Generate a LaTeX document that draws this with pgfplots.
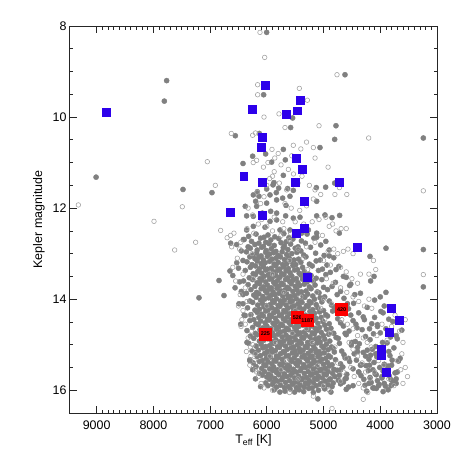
\documentclass[border=0pt]{standalone}
\usepackage{fontspec}
\setmainfont{Liberation Sans}
\usepackage{pgfplots}
\pgfplotsset{compat=1.18}
\definecolor{dotgray}{RGB}{128,128,128}
\definecolor{ringgray}{RGB}{165,165,165}
\definecolor{sqblue}{RGB}{45,0,235}
\definecolor{sqred}{RGB}{255,0,0}
\begin{document}
\begin{tikzpicture}
\begin{axis}[
  name=hr,
  width=367bp, height=387bp, scale only axis,
  x dir=reverse, y dir=reverse,
  xmin=3000, xmax=9470, ymin=8, ymax=16.5,
  xtick={3000,4000,...,9000}, ytick={8,10,12,14,16},
  minor x tick num=9, minor y tick num=3,
  major tick length=7bp, minor tick length=3.5bp,
  tick style={black!85, line width=0.7bp},
  axis line style={black!85, line width=1bp},
  /pgf/number format/assume math mode=true,
  /pgf/number format/1000 sep={},
  tick label style={font=\fontsize{12.5}{14}\selectfont},
  xticklabel style={yshift=-4bp},
  label style={font=\fontsize{12.5}{15}\selectfont},
  xlabel={T\textsubscript{eff}\ [K]},
  ylabel={Kepler magnitude},
  xlabel style={at={(axis description cs:0.5,-0.07)}, anchor=center},
  ylabel style={at={(axis description cs:-0.085,0.5)}, anchor=center},
]
% filled dots: core rows
\addplot[only marks, mark=*, mark size=2.6, color=dotgray] coordinates {
(6320,12.62) (6190,12.57) (6050,12.64) (5980,12.59) (5860,12.63) (5700,12.56) (5610,12.65) (5480,12.60) (5290,12.57) (5120,12.64)
(6400,12.69) (6270,12.73) (6110,12.66) (6020,12.75) (5930,12.70) (5790,12.67) (5660,12.74) (5540,12.68) (5390,12.72) (5170,12.66) (4960,12.73)
(6330,12.85) (6210,12.80) (6140,12.77) (6060,12.84) (5960,12.78) (5870,12.82) (5750,12.76) (5690,12.83) (5580,12.79) (5450,12.85) (5320,12.77) (5050,12.81)
(6450,12.94) (6290,12.88) (6170,12.92) (6090,12.86) (6010,12.93) (5920,12.89) (5840,12.95) (5710,12.87) (5630,12.91) (5500,12.88) (5400,12.94) (5230,12.86) (4900,12.92)
(6360,12.96) (6250,13.03) (6180,12.99) (6100,13.05) (6020,12.97) (5950,13.01) (5880,12.98) (5800,13.04) (5730,12.96) (5650,13.02) (5560,13.00) (5470,12.97) (5350,13.03) (5140,12.99) (4990,13.04)
(6420,13.15) (6300,13.07) (6210,13.11) (6140,13.08) (6060,13.14) (5990,13.06) (5910,13.12) (5840,13.10) (5760,13.07) (5690,13.13) (5610,13.09) (5520,13.14) (5440,13.12) (5310,13.07) (5060,13.14) (4820,13.09)
(6350,13.18) (6260,13.24) (6170,13.16) (6100,13.22) (6030,13.20) (5950,13.17) (5870,13.23) (5800,13.19) (5720,13.24) (5650,13.22) (5570,13.17) (5490,13.24) (5400,13.19) (5250,13.23) (5130,13.16) (4940,13.25)
(6500,13.32) (6290,13.30) (6200,13.27) (6130,13.33) (6060,13.29) (5990,13.34) (5920,13.32) (5840,13.27) (5770,13.34) (5700,13.29) (5620,13.33) (5540,13.26) (5460,13.35) (5370,13.30) (5200,13.27) (5020,13.34) (4730,13.28)
(6380,13.37) (6240,13.44) (6160,13.39) (6090,13.43) (6020,13.36) (5950,13.45) (5880,13.40) (5810,13.37) (5740,13.44) (5660,13.38) (5590,13.42) (5510,13.36) (5430,13.43) (5340,13.39) (5260,13.45) (5090,13.37) (4880,13.41)
(6310,13.53) (6200,13.46) (6120,13.55) (6050,13.50) (5980,13.47) (5910,13.54) (5840,13.48) (5770,13.52) (5700,13.46) (5630,13.53) (5560,13.49) (5480,13.55) (5400,13.47) (5310,13.51) (5220,13.48) (5130,13.54) (4960,13.46) (4600,13.52)
(6410,13.60) (6250,13.57) (6170,13.64) (6090,13.58) (6020,13.62) (5950,13.56) (5880,13.63) (5810,13.59) (5740,13.65) (5670,13.57) (5600,13.61) (5530,13.58) (5450,13.64) (5370,13.56) (5290,13.62) (5180,13.60) (5030,13.57) (4790,13.63)
(6330,13.68) (6210,13.72) (6130,13.66) (6060,13.73) (5990,13.69) (5920,13.75) (5850,13.67) (5780,13.71) (5710,13.68) (5640,13.74) (5570,13.66) (5500,13.72) (5420,13.70) (5340,13.67) (5250,13.73) (5150,13.69) (5000,13.74) (4850,13.72) (4520,13.67)
(6450,13.83) (6280,13.79) (6180,13.85) (6100,13.77) (6030,13.81) (5960,13.78) (5890,13.84) (5820,13.76) (5750,13.82) (5680,13.80) (5610,13.77) (5540,13.83) (5470,13.79) (5390,13.84) (5310,13.82) (5220,13.77) (5110,13.84) (4930,13.79) (4700,13.83)
(6360,13.87) (6230,13.91) (6140,13.88) (6070,13.94) (6000,13.86) (5930,13.92) (5860,13.90) (5790,13.87) (5720,13.93) (5650,13.89) (5580,13.94) (5510,13.92) (5440,13.87) (5360,13.94) (5280,13.89) (5190,13.93) (5080,13.86) (4980,13.95) (4760,13.90) (4350,13.87)
(6300,14.04) (6190,13.96) (6110,14.02) (6040,14.00) (5970,13.97) (5900,14.03) (5830,13.99) (5760,14.04) (5690,14.02) (5620,13.97) (5550,14.04) (5480,13.99) (5410,14.03) (5330,13.96) (5250,14.05) (5160,14.00) (5060,13.97) (4900,14.04) (4640,13.98) (4100,14.02)
(6420,14.10) (6250,14.07) (6160,14.13) (6080,14.09) (6010,14.14) (5940,14.12) (5870,14.07) (5800,14.14) (5730,14.09) (5660,14.13) (5590,14.06) (5520,14.15) (5450,14.10) (5380,14.07) (5300,14.14) (5220,14.08) (5130,14.12) (5030,14.06) (4860,14.13) (4470,14.09) (3930,14.15)
(6340,14.19) (6210,14.24) (6130,14.22) (6050,14.17) (5980,14.24) (5910,14.19) (5840,14.23) (5770,14.16) (5700,14.25) (5630,14.20) (5560,14.17) (5490,14.24) (5420,14.18) (5350,14.22) (5270,14.16) (5190,14.23) (5100,14.19) (5000,14.25) (4810,14.17) (4560,14.21) (4230,14.18)
(6280,14.34) (6170,14.29) (6090,14.33) (6020,14.26) (5950,14.35) (5880,14.30) (5810,14.27) (5740,14.34) (5670,14.28) (5600,14.32) (5530,14.26) (5460,14.33) (5390,14.29) (5320,14.35) (5240,14.27) (5160,14.31) (5070,14.28) (4960,14.34) (4840,14.26) (4620,14.32) (4380,14.30) (3990,14.27)
(6380,14.36) (6230,14.45) (6140,14.40) (6060,14.37) (5990,14.44) (5920,14.38) (5850,14.42) (5780,14.36) (5710,14.43) (5640,14.39) (5570,14.45) (5500,14.37) (5430,14.41) (5360,14.38) (5290,14.44) (5210,14.36) (5130,14.42) (5040,14.40) (4930,14.37) (4750,14.43) (4300,14.39) (3850,14.44)
(6300,14.47) (6190,14.54) (6110,14.48) (6030,14.52) (5960,14.46) (5890,14.53) (5820,14.49) (5750,14.55) (5680,14.47) (5610,14.51) (5540,14.48) (5470,14.54) (5400,14.46) (5330,14.52) (5260,14.50) (5180,14.47) (5100,14.53) (5010,14.49) (4900,14.54) (4700,14.52) (4480,14.47) (4150,14.54) (3780,14.49)
(6250,14.62) (6150,14.56) (6070,14.63) (6000,14.59) (5930,14.65) (5860,14.57) (5790,14.61) (5720,14.58) (5650,14.64) (5580,14.56) (5510,14.62) (5440,14.60) (5370,14.57) (5300,14.63) (5230,14.59) (5150,14.64) (5070,14.62) (4980,14.57) (4870,14.64) (4650,14.59) (4410,14.63) (4050,14.56) (3900,14.65)
(6350,14.69) (6200,14.75) (6120,14.67) (6040,14.71) (5970,14.68) (5900,14.74) (5830,14.66) (5760,14.72) (5690,14.70) (5620,14.67) (5550,14.73) (5480,14.69) (5410,14.74) (5340,14.72) (5270,14.67) (5200,14.74) (5120,14.69) (5040,14.73) (4950,14.66) (4820,14.75) (4550,14.70) (4320,14.67) (4000,14.74) (3620,14.68)
(6290,14.81) (6170,14.78) (6090,14.84) (6010,14.76) (5940,14.82) (5870,14.80) (5800,14.77) (5730,14.83) (5660,14.79) (5590,14.84) (5520,14.82) (5450,14.77) (5380,14.84) (5310,14.79) (5240,14.83) (5160,14.76) (5080,14.85) (5000,14.80) (4910,14.77) (4780,14.84) (4600,14.78) (4260,14.82) (4120,14.76) (3820,14.83)
(6230,14.86) (6130,14.92) (6050,14.90) (5980,14.87) (5910,14.93) (5840,14.89) (5770,14.94) (5700,14.92) (5630,14.87) (5560,14.94) (5490,14.89) (5420,14.93) (5350,14.86) (5280,14.95) (5210,14.90) (5140,14.87) (5060,14.94) (4980,14.88) (4890,14.92) (4740,14.86) (4440,14.93) (4180,14.89) (3960,14.95) (3700,14.87)
(6320,14.97) (6190,15.03) (6100,14.99) (6020,15.04) (5950,15.02) (5880,14.97) (5810,15.04) (5740,14.99) (5670,15.03) (5600,14.96) (5530,15.05) (5460,15.00) (5390,14.97) (5320,15.04) (5250,14.98) (5180,15.02) (5110,14.96) (5030,15.03) (4950,14.99) (4860,15.05) (4720,14.97) (4510,15.01) (4370,14.98) (4080,15.04) (3880,14.96)
(6260,15.14) (6150,15.12) (6070,15.07) (5990,15.14) (5920,15.09) (5850,15.13) (5780,15.06) (5710,15.15) (5640,15.10) (5570,15.07) (5500,15.14) (5430,15.08) (5360,15.12) (5290,15.06) (5220,15.13) (5150,15.09) (5080,15.15) (5000,15.07) (4920,15.11) (4830,15.08) (4680,15.14) (4400,15.06) (4230,15.12) (4140,15.10) (3760,15.07)
(6210,15.17) (6110,15.24) (6040,15.19) (5970,15.23) (5900,15.16) (5830,15.25) (5760,15.20) (5690,15.17) (5620,15.24) (5550,15.18) (5480,15.22) (5410,15.16) (5340,15.23) (5270,15.19) (5200,15.25) (5130,15.17) (5060,15.21) (4990,15.18) (4910,15.24) (4810,15.16) (4640,15.22) (4460,15.20) (4300,15.17) (4170,15.23) (4040,15.19) (3830,15.24)
(6300,15.33) (6170,15.26) (6080,15.35) (6010,15.30) (5940,15.27) (5870,15.34) (5800,15.28) (5730,15.32) (5660,15.26) (5590,15.33) (5520,15.29) (5450,15.35) (5380,15.27) (5310,15.31) (5240,15.28) (5170,15.34) (5100,15.26) (5030,15.32) (4960,15.30) (4880,15.27) (4790,15.33) (4620,15.29) (4420,15.34) (4200,15.32) (4060,15.27) (3790,15.34)
(6240,15.40) (6130,15.37) (6050,15.44) (5980,15.38) (5910,15.42) (5840,15.36) (5770,15.43) (5700,15.39) (5630,15.45) (5560,15.37) (5490,15.41) (5420,15.38) (5350,15.44) (5280,15.36) (5210,15.42) (5140,15.40) (5070,15.37) (5000,15.43) (4930,15.39) (4850,15.44) (4700,15.42) (4540,15.37) (4330,15.44) (4110,15.39) (3930,15.43) (3680,15.36)
(6190,15.48) (6090,15.52) (6020,15.46) (5950,15.53) (5880,15.49) (5810,15.55) (5740,15.47) (5670,15.51) (5600,15.48) (5530,15.54) (5460,15.46) (5390,15.52) (5320,15.50) (5250,15.47) (5180,15.53) (5110,15.49) (5040,15.54) (4970,15.52) (4900,15.47) (4820,15.54) (4660,15.49) (4480,15.53) (4250,15.46) (4130,15.55) (4010,15.50) (3860,15.47)
(6130,15.63) (6040,15.59) (5970,15.65) (5900,15.57) (5830,15.61) (5760,15.58) (5690,15.64) (5620,15.56) (5550,15.62) (5480,15.60) (5410,15.57) (5340,15.63) (5270,15.59) (5200,15.64) (5130,15.62) (5060,15.57) (4990,15.64) (4920,15.59) (4840,15.63) (4760,15.56) (4590,15.65) (4380,15.60) (4210,15.57) (4090,15.64) (3950,15.58) (3740,15.62)
(6080,15.67) (6000,15.71) (5930,15.68) (5860,15.74) (5790,15.66) (5720,15.72) (5650,15.70) (5580,15.67) (5510,15.73) (5440,15.69) (5370,15.74) (5300,15.72) (5230,15.67) (5160,15.74) (5090,15.69) (5020,15.73) (4950,15.66) (4880,15.75) (4800,15.70) (4720,15.67) (4600,15.74) (4340,15.68) (4180,15.72) (4070,15.66) (3970,15.73) (3840,15.69) (3720,15.75)
(6020,15.84) (5950,15.76) (5880,15.82) (5810,15.80) (5740,15.77) (5670,15.83) (5600,15.79) (5530,15.84) (5460,15.82) (5390,15.77) (5320,15.84) (5250,15.79) (5180,15.83) (5110,15.76) (5040,15.85) (4970,15.80) (4900,15.77) (4830,15.84) (4740,15.78) (4650,15.82) (4290,15.76) (4160,15.83) (4050,15.79) (3930,15.85) (3810,15.77) (3750,15.81)
(5980,15.90) (5900,15.87) (5830,15.93) (5760,15.89) (5690,15.94) (5620,15.92) (5550,15.87) (5480,15.94) (5410,15.89) (5340,15.93) (5270,15.86) (5200,15.95) (5130,15.90) (5060,15.87) (4990,15.94) (4920,15.88) (4850,15.92) (4700,15.86) (4560,15.93) (4270,15.89) (4130,15.95) (4020,15.87) (3910,15.91) (3800,15.88)
(5870,15.99) (5770,16.04) (5680,16.02) (5590,15.97) (5510,16.04) (5430,15.99) (5350,16.03) (5260,15.96) (5180,16.05) (5090,16.00) (4980,15.97) (4870,16.04) (4600,15.98) (4240,16.02) (4070,15.96) (3950,16.03) (3860,15.99)
};
% filled dots: scattered stars
\addplot[only marks, mark=*, mark size=2.6, color=dotgray] coordinates {
(9010,11.32) (7766,9.20) (7807,9.65) (7478,11.59) (6967,11.66) (7196,13.97) (6843,13.59) (6755,13.92)
(6003,8.14) (4622,9.07) (3241,10.46) (3241,12.91) (3241,13.73) (6555,10.41) (6056,9.51) (5545,10.02)
(5580,10.23) (4781,10.19) (4804,10.49) (6132,10.36) (5063,10.67) (5709,10.71) (6250,10.86) (6420,11.02)
(6021,10.81) (5915,10.99) (5674,10.94) (5709,11.28) (5874,11.44) (5891,11.49) (5791,11.56) (6003,11.58)
(6168,11.64) (6138,11.74) (6238,11.71) (5833,11.66) (5721,11.78) (5533,11.61) (5633,11.57) (5121,11.85)
(4963,11.54) (5127,11.55) (4804,11.45) (5592,11.74) (5944,11.71) (6197,11.85) (6003,11.89) (5827,11.82)
(5662,11.94) (6180,11.96) (6380,11.96) (6079,12.11) (5932,12.07) (5827,12.11) (6238,12.18) (6356,12.17)
(5668,12.17) (5533,12.22) (5415,12.20) (5121,12.17) (4975,12.15) (4851,12.21) (4716,12.16) (5944,12.29)
(5827,12.26) (6238,12.40) (6032,12.42) (5768,12.48) (5592,12.48) (5386,12.55) (5268,12.48) (5121,12.55)
(6356,12.48) (6414,12.69) (6532,12.80) (6638,12.77) (4722,12.55) (3899,12.88) (4181,13.06)
(6650,13.38) (6600,13.48) (6530,13.20) (6480,13.62) (6560,13.75) (6420,13.90) (6490,14.10) (6400,14.35)
(6460,14.55) (6350,14.95) (6300,15.35) (6250,15.55) (6200,15.75) (6110,15.92) (5100,16.19)
(4900,13.05) (4780,13.35) (4650,13.50) (4540,13.70) (4450,13.90) (4580,14.10) (4700,14.25) (4520,14.35)
(4430,14.55) (4620,14.75) (4500,14.95) (4400,15.15) (4560,15.30) (4700,15.55) (4620,15.75) (4480,15.90)
(4380,15.60) (4350,15.45) (4280,14.45) (4190,14.65) (4100,14.40) (4050,14.60) (3950,14.30) (3900,13.85)
(4110,13.50) (4000,13.95) (4170,13.60) (3720,14.80) (3650,15.30) (3700,15.60) (3800,15.45) (3850,15.15)
(4080,15.20) (4190,15.45) (4260,15.25) (4200,15.85) (4110,15.95) (4030,15.90) (3970,15.70) (3890,15.55)
(3810,15.90) (3720,15.85)
};
% open circles
\addplot[only marks, mark=o, mark size=2.3, color=ringgray, mark options={line width=0.6bp}] coordinates {
(6121,8.14) (6038,8.69) (4763,9.07) (4205,10.46) (3241,11.62) (3241,13.46) (9323,11.93) (7989,12.29)
(7490,11.97) (7625,12.92) (7255,12.75) (7049,10.98) (6908,11.50) (6814,12.49) (6455,14.60) (6626,10.36)
(6162,9.29) (6162,9.51) (5427,9.37) (5286,9.63) (5786,9.93) (5680,10.23) (5080,10.19) (6250,10.40)
(5533,10.62) (5180,10.67) (5909,10.71)
(6480,12.90) (6520,13.10) (6600,13.30) (6420,13.45) (6550,13.60) (6380,13.75) (6470,13.90) (6350,14.05)
(6420,14.25) (6300,14.35) (6380,14.55) (6270,14.70) (6330,14.85) (6250,15.00) (6360,15.15) (6280,15.25)
(6220,15.35) (6300,15.45) (6200,15.55) (6150,15.70) (6100,15.85) (6050,15.95) (6180,15.60) (6260,13.00)
(6230,13.55) (6440,14.45) (6500,14.15) (6620,12.85) (6700,12.65) (6580,12.55) (6640,12.60) (6460,12.75)
(6350,12.45) (6230,12.55) (6150,12.35) (6090,12.25) (6250,12.15) (6330,12.00) (6110,11.90) (6050,11.75)
(6170,11.65) (6000,11.50) (5950,11.35) (5870,11.20) (6060,11.10) (5980,11.00) (6180,10.95) (6240,11.00)
(5800,10.80) (5860,10.90) (5750,11.05) (5620,11.15) (5530,11.25) (5450,11.45) (5380,11.30) (5250,11.50)
(5150,11.60) (5050,11.70) (5180,11.80) (5300,11.95) (5420,12.05) (5570,12.00) (5680,11.90) (5500,12.30)
(5350,12.35) (5200,12.30) (5080,12.25) (4960,12.20) (4900,12.40) (4840,12.35) (4780,12.50) (4690,12.45)
(4600,12.45) (5020,12.60) (5150,12.75) (5300,12.85) (4920,12.95) (4820,12.90) (4750,13.00) (4650,12.95)
(4570,12.90) (4480,13.00) (5000,13.15) (4880,13.25) (4700,13.30) (4600,13.40) (4500,13.55) (4400,13.65)
(4350,13.45) (4200,13.45) (4080,13.35) (4120,13.15) (4950,13.55) (4830,13.65) (4700,13.75) (4590,13.85)
(4480,13.95) (4380,14.05) (4280,14.15) (4200,14.00) (4150,14.20) (5000,14.00) (4860,14.10) (4750,14.30)
(4680,14.45) (4580,14.55) (4480,14.65) (4400,14.80) (4300,14.85) (4230,14.95) (4160,15.05) (4060,14.80)
(3970,14.55) (3880,14.90) (3800,14.60) (3740,14.35) (3660,14.70) (3600,14.95) (3560,14.45) (3620,15.20)
(3700,15.35) (3640,15.55) (3560,15.50) (3520,15.70) (3600,15.85) (3760,15.90) (3850,15.75) (3940,15.45)
(4030,15.35) (4100,15.60) (4180,15.75) (4260,15.60) (4320,15.40) (4400,15.25) (4480,15.10) (4550,14.95)
(4600,15.30) (4520,15.50) (4460,15.70) (4380,15.85) (4300,15.95) (4220,16.05) (4300,16.20) (4850,16.40)
(5180,16.13) (5600,16.05) (5900,16.00) (6200,15.20) (6290,15.05) (5000,15.90) (4900,16.00) (4700,15.80)
(4650,15.60) (4750,15.40) (4800,15.05) (4880,14.75) (4980,14.45) (5050,14.20) (5120,13.85) (5200,13.60)
(5280,13.35) (5360,13.10) (5450,12.90) (5600,12.70) (5750,12.60) (5900,12.50) (6000,12.40) (5700,12.45)
(5580,12.55) (5450,12.60) (5870,12.20) (5720,12.30) (5650,11.60) (5780,11.45) (5900,11.30) (5560,10.85)
(5400,10.70) (6200,10.35) (6050,10.00) (4920,11.10) (4720,11.55) (4590,11.70) (4800,11.70) (5300,10.55)
(5150,10.90) (5900,13.45) (5700,13.85) (5500,14.25) (5300,14.65) (5850,14.95) (5650,15.35) (5450,15.75)
(6000,14.15) (5600,13.15) (5400,13.95) (5200,14.95) (5100,15.45) (5750,15.55) (5950,15.25) (5550,14.75)
};
% blue squares
\addplot[only marks, mark=square*, mark size=4, color=sqblue] coordinates {
(8824,9.89) (6021,9.29) (6262,9.82) (5650,9.93) (5468,9.86) (5409,9.63) (6079,10.44) (6091,10.67)
(5480,10.90) (5380,11.14) (6408,11.30) (6074,11.44) (5492,11.42) (4722,11.44) (5345,11.85) (6649,12.08)
(6074,12.16) (5339,12.45) (5480,12.55) (4405,12.86) (5280,13.51) (3799,14.19) (3658,14.46) (3840,14.73)
(3987,15.09) (3976,15.24) (3899,15.60)
};
% red squares with labels
\addplot[only marks, mark=square*, mark size=6, color=sqred,
  point meta=explicit symbolic, nodes near coords, nodes near coords align={center},
  every node near coord/.append style={text=black, inner sep=0pt,
    font=\fontsize{5.5}{6}\selectfont\bfseries}] coordinates {
(6026,14.76) [225] (5462,14.40) [526] (5286,14.47) [1187] (4681,14.22) [420]
};
\end{axis}
\path ([shift={(-70bp,-45bp)}]hr.south west) rectangle ([shift={(21bp,26bp)}]hr.north east);
\end{tikzpicture}
\end{document}
